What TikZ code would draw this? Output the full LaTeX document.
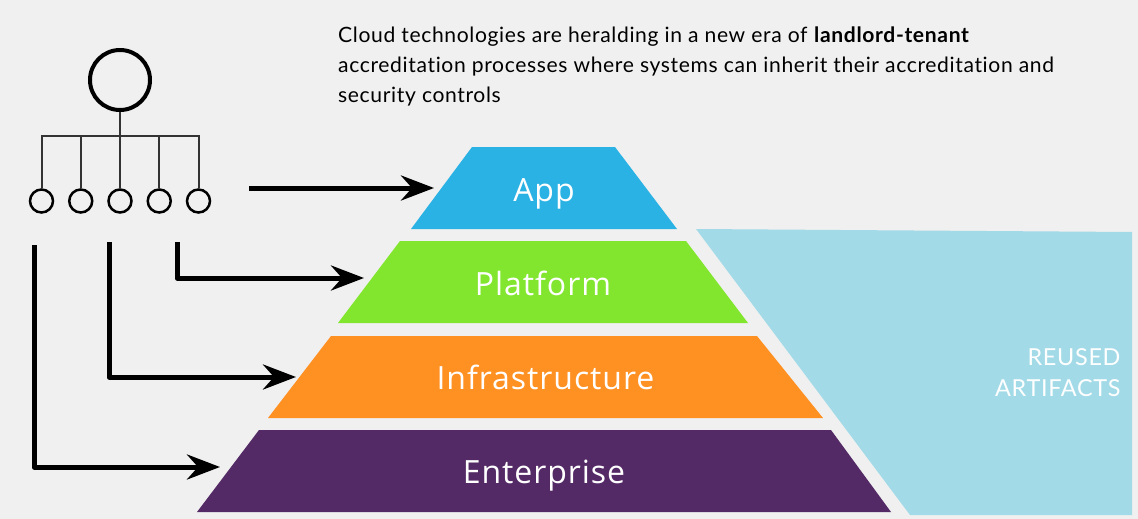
\documentclass[tikz,border=0pt]{standalone}
\usepackage{fontspec}
\setmainfont{Lato}
\newfontfamily\labelfont[LetterSpace=3]{Open Sans}
\newfontfamily\bodyfont[LetterSpace=3,Ligatures=NoCommon]{Lato}
\usepackage{xcolor}
\usetikzlibrary{positioning,arrows.meta}
\definecolor{pagegray}{HTML}{F0F0F0}
\definecolor{appblue}{HTML}{2BB2E4}
\definecolor{platgreen}{HTML}{82E62E}
\definecolor{infraorange}{HTML}{FF9022}
\definecolor{entpurple}{HTML}{532A66}
\definecolor{reusedblue}{HTML}{A2DAE7}
\definecolor{linkgray}{HTML}{333333}
\tikzset{
    layer/.style={inner sep=0pt, text=white, text height=26pt, text depth=0pt,
        font=\labelfont\fontsize{32}{32}\selectfont},
    head/.style={circle, draw=black, line width=4pt, minimum size=60pt, inner sep=0pt},
    member/.style={circle, draw=black, line width=2.5pt, minimum size=23pt, inner sep=0pt},
    link/.style={draw=linkgray, line width=2pt},
    flow/.style={draw=black, line width=5pt, line join=round, -{Stealth[length=33pt,width=25pt,inset=11pt]}},
}

\begin{document}
\begin{tikzpicture}[x=1pt, y=-1pt, node distance=39.25pt, on grid]

    \fill[pagegray] (0,0) rectangle (1138,519);
    \useasboundingbox (0,0) rectangle (1138,519);

    % reused area behind the layers
    \fill[reusedblue] (696,229) -- (1132,232) -- (1132,515) -- (910,515) -- cycle;
    \node[anchor=east, align=right, text=white, font=\bodyfont\fontsize{23.4}{31}\selectfont] (reused) at (1124,373) {REUSED\\ARTIFACTS};

    \node[anchor=north west, align=left, font=\bodyfont\fontsize{21.1}{30}\selectfont, inner sep=0pt] (intro) at (338,27)
        {Cloud technologies are heralding in a new era of \textbf{landlord-tenant}\\
         accreditation processes where systems can inherit their accreditation and\\
         security controls};

    % the pyramid
    \fill[appblue] (472,147) -- (615,147) -- (677,229) -- (411,229) -- cycle;
    \fill[platgreen] (400,241) -- (686,241) -- (748,323) -- (338,323) -- cycle;
    \fill[infraorange] (331,336) -- (757,336) -- (823,418) -- (268,418) -- cycle;
    \fill[entpurple] (259,430) -- (831,430) -- (891,512) -- (197,512) -- cycle;

    \node[layer] (app) at (544,188) {App};
    \node[layer] (platform) [below=94.3pt of app, xshift=-1pt] {Platform};
    \node[layer] (infra) [below=94.3pt of platform, xshift=2.5pt] {Infrastructure};
    \node[layer] (enterprise) [below=94.3pt of infra, xshift=-1.5pt] {Enterprise};

    % the org chart
    \node[head] (boss) at (120,80) {};
    \node[member] (m1) at (41.5,201) {};
    \node[member] (m2) [right=of m1] {};
    \node[member] (m3) [right=of m2] {};
    \node[member] (m4) [right=of m3] {};
    \node[member] (m5) [right=of m4] {};
    \coordinate (bar) at (120,136);

    \draw[link] (boss) -- (m3);
    \draw[link] (m1) |- (bar) -| (m5);
    \foreach \m in {m2,m4} {
        \draw[link] (\m) -- (\m |- bar);
    }

    % the arrows
    \coordinate (appfrom) at (249,188);
    \coordinate (appto) at (434,188);
    \coordinate (platfrom) at (177,242);
    \coordinate (platto) at (364,278);
    \coordinate (infrafrom) at (109,242);
    \coordinate (infrato) at (296,377);
    \coordinate (entfrom) at (34,245);
    \coordinate (entto) at (220,467);

    \draw[flow] (appfrom) -- (appto);
    \draw[flow] (platfrom) |- (platto);
    \draw[flow] (infrafrom) |- (infrato);
    \draw[flow] (entfrom) |- (entto);

\end{tikzpicture}
\end{document}
